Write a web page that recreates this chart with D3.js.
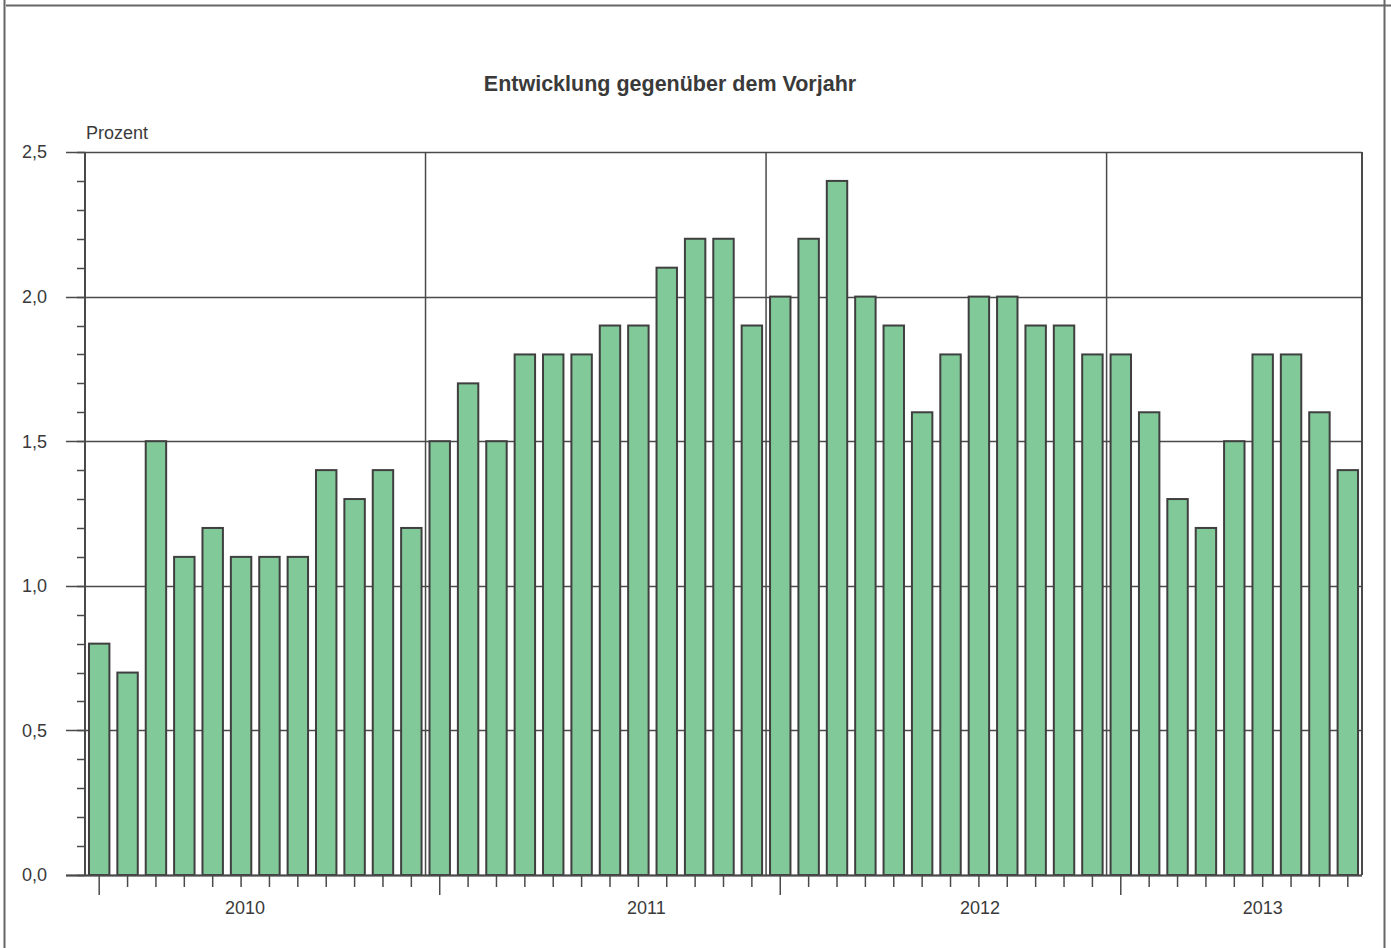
<!DOCTYPE html>
<html>
<head>
<meta charset="utf-8">
<script src="https://cdn.jsdelivr.net/npm/d3@7"></script>
<style>
  html, body { margin: 0; padding: 0; background: #fff; }
  svg { display: block; font-family: "Liberation Sans", Arial, sans-serif; }
</style>
</head>
<body>
<svg id="chart" width="1391" height="948"></svg>
<script>
// ---- data ----
const years = ["2010", "2011", "2012", "2013"];
const months = [
  "2010-01","2010-02","2010-03","2010-04","2010-05","2010-06","2010-07","2010-08","2010-09","2010-10","2010-11","2010-12",
  "2011-01","2011-02","2011-03","2011-04","2011-05","2011-06","2011-07","2011-08","2011-09","2011-10","2011-11","2011-12",
  "2012-01","2012-02","2012-03","2012-04","2012-05","2012-06","2012-07","2012-08","2012-09","2012-10","2012-11","2012-12",
  "2013-01","2013-02","2013-03","2013-04","2013-05","2013-06","2013-07","2013-08","2013-09"
];
const values = [
  0.8, 0.7, 1.5, 1.1, 1.2, 1.1, 1.1, 1.1, 1.4, 1.3, 1.4, 1.2,
  1.5, 1.7, 1.5, 1.8, 1.8, 1.8, 1.9, 1.9, 2.1, 2.2, 2.2, 1.9,
  2.0, 2.2, 2.4, 2.0, 1.9, 1.6, 1.8, 2.0, 2.0, 1.9, 1.9, 1.8,
  1.8, 1.6, 1.3, 1.2, 1.5, 1.8, 1.8, 1.6, 1.4
];
const yTicks = [0, 0.5, 1.0, 1.5, 2.0, 2.5];
const title = "Entwicklung gegenüber dem Vorjahr";
const unitLabel = "Prozent";

(function () {
// ---- layout ----
const svg = d3.select("#chart");
const pLeft = 85, pRight = 1362, pTop = 152, pBottom = 875;
const lineCol = "#4a4a4a", textCol = "#3a3a3a";
const fs = 18;

const x = d3.scaleBand().domain(months).range([pLeft, pRight]).padding(0);
const y = d3.scaleLinear().domain([0, 2.5]).range([pBottom, pTop]);

// outer frame
svg.append("line").attr("x1", 4.5).attr("x2", 4.5).attr("y1", 0).attr("y2", 948)
  .attr("stroke", "#666").attr("stroke-width", 2);
svg.append("line").attr("x1", 1384.5).attr("x2", 1384.5).attr("y1", 0).attr("y2", 948)
  .attr("stroke", "#666").attr("stroke-width", 2);
svg.append("line").attr("x1", 6).attr("x2", 1391).attr("y1", 5.5).attr("y2", 5.5)
  .attr("stroke", "#666").attr("stroke-width", 2);

// title
svg.append("text").attr("x", 670).attr("y", 91).attr("text-anchor", "middle")
  .attr("font-size", 21.5).attr("font-weight", "bold").attr("fill", textCol).text(title);
svg.append("text").attr("x", 86).attr("y", 139)
  .attr("font-size", fs).attr("fill", textCol).text(unitLabel);

// minor y ticks (0.1)
const minor = d3.range(0, 26).map(i => i / 10);
svg.append("g").selectAll("line").data(minor).join("line")
  .attr("x1", 77).attr("x2", pLeft)
  .attr("y1", d => Math.round(y(d)) + 0.5).attr("y2", d => Math.round(y(d)) + 0.5)
  .attr("stroke", lineCol).attr("stroke-width", 1.5);

// major grid lines
svg.append("g").selectAll("line").data(yTicks).join("line")
  .attr("x1", 66).attr("x2", pRight)
  .attr("y1", d => Math.round(y(d)) + 0.5).attr("y2", d => Math.round(y(d)) + 0.5)
  .attr("stroke", lineCol).attr("stroke-width", 1.5);

// year separators
const yearStarts = years.slice(1).map(yr => x(yr + "-01"));
svg.append("g").selectAll("line").data(yearStarts).join("line")
  .attr("x1", d => d).attr("x2", d => d).attr("y1", pTop).attr("y2", pBottom)
  .attr("stroke", lineCol).attr("stroke-width", 1.5);

// plot border left/right
svg.append("line").attr("x1", pLeft).attr("x2", pLeft).attr("y1", pTop).attr("y2", pBottom)
  .attr("stroke", lineCol).attr("stroke-width", 2);
svg.append("line").attr("x1", pRight).attr("x2", pRight).attr("y1", pTop).attr("y2", pBottom)
  .attr("stroke", lineCol).attr("stroke-width", 2);

// y labels
svg.append("g").selectAll("text").data(yTicks).join("text")
  .attr("x", 47).attr("y", d => y(d)).attr("dy", "0.36em")
  .attr("text-anchor", "end").attr("font-size", fs).attr("fill", textCol)
  .text(d => d3.format(".1f")(d).replace(".", ","));

// bars
const bw = x.bandwidth() * 0.72;
svg.append("g").selectAll("rect").data(months).join("rect")
  .attr("x", (d) => x(d) + (x.bandwidth() - bw) / 2)
  .attr("width", bw)
  .attr("y", (d, i) => y(values[i]))
  .attr("height", (d, i) => y(0) - y(values[i]))
  .attr("fill", "#82c99a").attr("stroke", "#3f3f3f").attr("stroke-width", 2);

// baseline
svg.append("line").attr("x1", 66).attr("x2", pRight).attr("y1", pBottom + 0.5).attr("y2", pBottom + 0.5)
  .attr("stroke", lineCol).attr("stroke-width", 2);

// x ticks
svg.append("g").selectAll("line").data(months).join("line")
  .attr("x1", d => x(d) + x.bandwidth() / 2).attr("x2", d => x(d) + x.bandwidth() / 2)
  .attr("y1", pBottom)
  .attr("y2", d => d.endsWith("-01") ? pBottom + 20 : pBottom + 12)
  .attr("stroke", lineCol).attr("stroke-width", 1.5);

// year labels (placed at a month within each year, as in the original)
const yearLabelAt = { "2010": "2010-06", "2011": "2011-08", "2012": "2012-08", "2013": "2013-06" };
const yearLabelShift = { "2010": 4, "2011": 8, "2012": 1, "2013": 0 };
svg.append("g").selectAll("text").data(years).join("text")
  .attr("x", d => x(yearLabelAt[d]) + x.bandwidth() / 2 + yearLabelShift[d])
  .attr("y", 914)
  .attr("text-anchor", "middle").attr("font-size", fs).attr("fill", textCol)
  .text(d => d);
})();
</script>
</body>
</html>
